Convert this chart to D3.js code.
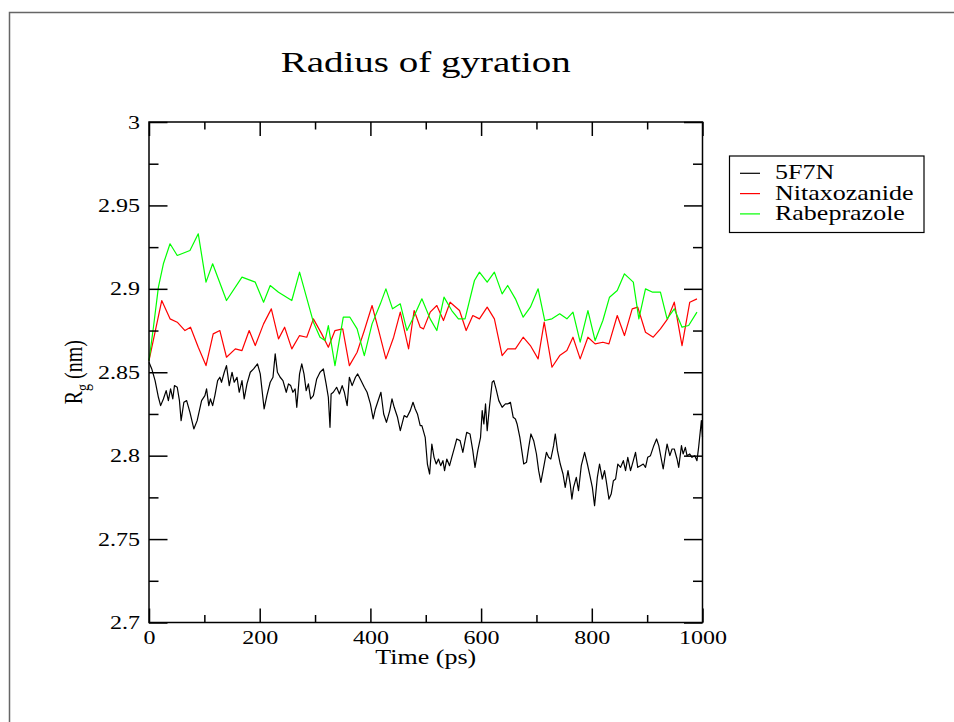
<!DOCTYPE html>
<html>
<head>
<meta charset="utf-8">
<script src="https://cdn.jsdelivr.net/npm/d3@7"></script>
<style>
  html, body { margin: 0; padding: 0; background: #fff; }
  svg { display: block; font-family: "Liberation Serif", "Times New Roman", serif; }
</style>
</head>
<body>
<svg id="chart" width="954" height="722"></svg>
<script>
// Radius of gyration (time in ps, Rg in nm)
const xMajor = [0, 200, 400, 600, 800, 1000];
const xMinor = [100, 300, 500, 700, 900];
const yMajor = [2.7, 2.75, 2.8, 2.85, 2.9, 2.95, 3.0];
const yMinor = [2.725, 2.775, 2.825, 2.875, 2.925, 2.975];

const seriesNames = ["5F7N", "Nitaxozanide", "Rabeprazole"];
const seriesColors = ["#000000", "#ff0000", "#00ff00"];

const rg5F7N = [
  [0,2.856],[5,2.852],[11,2.845],[17,2.835],[21,2.830],[26,2.834],[31,2.839],[35,2.833],[39,2.840],[43,2.834],
  [46,2.842],[51,2.841],[55,2.833],[58,2.821],[63,2.832],[68,2.833],[74,2.826],[81,2.816],[87,2.821],[95,2.833],
  [101,2.836],[104,2.840],[108,2.830],[111,2.834],[115,2.830],[119,2.836],[124,2.845],[128,2.847],[131,2.844],[136,2.850],
  [140,2.854],[145,2.842],[150,2.850],[154,2.844],[159,2.847],[163,2.838],[168,2.845],[172,2.834],[177,2.843],[183,2.850],
  [189,2.852],[196,2.855],[201,2.849],[208,2.828],[213,2.836],[219,2.844],[224,2.847],[228,2.861],[232,2.850],[237,2.847],
  [242,2.845],[248,2.838],[252,2.843],[256,2.842],[260,2.838],[264,2.840],[267,2.829],[272,2.849],[276,2.855],[280,2.849],
  [284,2.839],[288,2.843],[292,2.834],[297,2.836],[303,2.846],[309,2.850],[315,2.852],[320,2.843],[324,2.835],[327,2.817],
  [329,2.837],[333,2.838],[339,2.841],[344,2.837],[349,2.842],[353,2.838],[358,2.830],[362,2.847],[367,2.842],[373,2.847],
  [377,2.849],[383,2.845],[389,2.841],[394,2.838],[400,2.831],[405,2.822],[409,2.828],[413,2.832],[419,2.838],[424,2.825],
  [429,2.820],[435,2.827],[439,2.834],[443,2.829],[449,2.823],[454,2.815],[461,2.824],[466,2.823],[472,2.827],[477,2.832],
  [481,2.828],[485,2.825],[490,2.818],[493,2.818],[499,2.811],[503,2.795],[507,2.789],[511,2.807],[515,2.799],[519,2.795],
  [523,2.798],[527,2.794],[531,2.797],[534,2.791],[538,2.798],[543,2.794],[547,2.799],[552,2.805],[556,2.810],[562,2.809],
  [567,2.802],[571,2.809],[574,2.814],[580,2.813],[585,2.803],[589,2.793],[594,2.803],[599,2.811],[602,2.827],[605,2.819],
  [608,2.831],[611,2.815],[615,2.829],[620,2.844],[623,2.845],[627,2.840],[632,2.833],[638,2.829],[644,2.831],[648,2.831],
  [653,2.832],[658,2.823],[662,2.822],[665,2.819],[670,2.811],[674,2.802],[677,2.795],[682,2.796],[686,2.805],[690,2.813],
  [695,2.809],[700,2.801],[704,2.791],[708,2.784],[713,2.793],[718,2.802],[722,2.799],[726,2.798],[731,2.806],[734,2.813],
  [738,2.803],[743,2.795],[748,2.789],[752,2.781],[757,2.791],[761,2.783],[764,2.774],[767,2.781],[772,2.787],[776,2.779],
  [781,2.794],[787,2.802],[792,2.795],[796,2.789],[801,2.781],[805,2.770],[810,2.787],[814,2.795],[819,2.786],[823,2.791],
  [826,2.785],[831,2.774],[835,2.777],[839,2.785],[843,2.786],[847,2.795],[852,2.793],[857,2.797],[861,2.791],[865,2.799],
  [870,2.791],[875,2.797],[879,2.802],[883,2.793],[888,2.794],[893,2.795],[897,2.793],[901,2.799],[906,2.800],[912,2.806],
  [917,2.810],[921,2.806],[925,2.799],[929,2.792],[933,2.801],[936,2.807],[941,2.800],[945,2.804],[949,2.804],[954,2.798],
  [957,2.793],[962,2.806],[965,2.801],[969,2.805],[972,2.800],[977,2.801],[981,2.799],[986,2.800],[990,2.797],[993,2.805],
  [998,2.821],[1000,2.811]
];

const rgNitaxozanide = [
  [0,2.857],[23,2.893],[38,2.882],[51,2.880],[65,2.875],[75,2.877],[89,2.865],[103,2.854],[116,2.873],[128,2.875],
  [140,2.859],[156,2.864],[168,2.863],[181,2.875],[192,2.866],[207,2.879],[221,2.888],[234,2.870],[245,2.877],[258,2.864],
  [272,2.872],[285,2.871],[297,2.882],[312,2.873],[324,2.865],[336,2.875],[350,2.876],[362,2.854],[376,2.862],[389,2.875],
  [403,2.890],[415,2.875],[428,2.858],[442,2.871],[454,2.886],[469,2.864],[479,2.887],[490,2.877],[496,2.876],[508,2.886],
  [520,2.890],[532,2.881],[544,2.892],[561,2.887],[573,2.875],[585,2.884],[597,2.882],[611,2.889],[624,2.882],[638,2.860],
  [648,2.864],[662,2.864],[676,2.871],[689,2.866],[703,2.858],[714,2.880],[728,2.853],[742,2.860],[755,2.863],[766,2.871],
  [779,2.858],[793,2.871],[806,2.867],[820,2.868],[831,2.867],[846,2.884],[859,2.872],[873,2.888],[883,2.889],[897,2.874],
  [911,2.871],[924,2.876],[937,2.882],[949,2.892],[963,2.866],[977,2.892],[990,2.894]
];

const rgRabeprazole = [
  [0,2.857],[8,2.877],[17,2.901],[26,2.915],[38,2.927],[51,2.920],[74,2.923],[89,2.933],[103,2.904],[115,2.915],
  [140,2.893],[168,2.907],[192,2.904],[207,2.892],[219,2.902],[234,2.898],[258,2.893],[272,2.910],[297,2.880],[309,2.871],
  [318,2.869],[324,2.878],[336,2.854],[351,2.883],[363,2.883],[376,2.876],[389,2.860],[403,2.879],[418,2.891],[428,2.900],
  [440,2.888],[454,2.891],[466,2.875],[478,2.883],[493,2.894],[508,2.882],[520,2.875],[533,2.895],[547,2.887],[559,2.882],
  [571,2.882],[588,2.905],[597,2.910],[611,2.904],[624,2.910],[638,2.897],[648,2.902],[662,2.894],[676,2.883],[689,2.889],
  [703,2.900],[715,2.881],[728,2.882],[742,2.885],[755,2.882],[766,2.886],[779,2.868],[793,2.887],[806,2.869],[820,2.881],
  [832,2.895],[846,2.899],[859,2.909],[875,2.904],[885,2.882],[897,2.900],[910,2.898],[924,2.898],[936,2.882],[949,2.888],
  [963,2.877],[975,2.878],[990,2.886]
];

(function () {
  "use strict";

  const SX = 1.3; // the original picture is stretched sideways, text included
  const FONT = '"Liberation Serif", "Times New Roman", serif';
  const L = 149, R = 702.5, T = 122, B = 622.5;

  const svg = d3.select("#chart");
  const x = d3.scaleLinear().domain([0, 1000]).range([L, R]);
  const y = d3.scaleLinear().domain([2.7, 3.0]).range([B, T]);

  const stext = (sel, px, py, str, size, anchor) => sel.append("text")
    .attr("transform", `translate(${px},${py}) scale(${SX},1)`)
    .attr("font-size", size).attr("text-anchor", anchor || "middle")
    .attr("fill", "#000").text(str);

  // page frame (top + left edge of the grace canvas)
  svg.append("path").attr("d", "M9.5,722V12.5H954").attr("fill", "none")
    .attr("stroke", "#666").attr("stroke-width", 1.5);

  // title
  stext(svg, (L + R) / 2, 71.5, "Radius of gyration", 30);

  // data
  const line = d3.line().x((d) => x(d[0])).y((d) => y(d[1]));
  [rg5F7N, rgNitaxozanide, rgRabeprazole].forEach((s, i) => {
    svg.append("path").datum(s).attr("fill", "none").attr("stroke", seriesColors[i])
      .attr("stroke-width", 1.2).attr("stroke-linejoin", "round").attr("d", line);
  });

  // ticks, all pointing inward
  const fmtY = (d) => String(+d.toFixed(3));
  const tickAxis = (gen, tv, size, tx, ty, fmt) => {
    const g = svg.append("g").attr("transform", `translate(${tx},${ty})`)
      .call(gen.tickValues(tv).tickSizeInner(-size).tickSizeOuter(0).tickFormat(fmt || (() => "")));
    g.select(".domain").remove();
    g.selectAll("line").attr("stroke", "#000").attr("stroke-width", 1.5);
    return g;
  };

  const gb = tickAxis(d3.axisBottom(x), xMajor, 14, 0, B, (d) => d);
  tickAxis(d3.axisBottom(x), xMinor, 7.5, 0, B);
  tickAxis(d3.axisTop(x), xMajor, 14, 0, T);
  tickAxis(d3.axisTop(x), xMinor, 7.5, 0, T);
  const gl = tickAxis(d3.axisLeft(y), yMajor, 18.5, L, 0, fmtY);
  tickAxis(d3.axisLeft(y), yMinor, 9.5, L, 0);
  tickAxis(d3.axisRight(y), yMajor, 18.5, R, 0);
  tickAxis(d3.axisRight(y), yMinor, 9.5, R, 0);

  gb.selectAll("text").attr("x", null).attr("y", null).attr("dy", null)
    .attr("transform", `translate(0,21) scale(${SX},1)`)
    .attr("font-family", FONT).attr("font-size", 18.5).attr("fill", "#000");
  gl.selectAll("text").attr("x", null).attr("y", null).attr("dy", null)
    .attr("transform", `translate(-9,6) scale(${SX},1)`)
    .attr("font-family", FONT).attr("font-size", 18.5).attr("fill", "#000");

  // plot frame
  svg.append("rect").attr("x", L).attr("y", T).attr("width", R - L).attr("height", B - T)
    .attr("fill", "none").attr("stroke", "#000").attr("stroke-width", 1.5);

  // axis labels
  stext(svg, (L + R) / 2, 663.5, "Time (ps)", 20);
  const yl = svg.append("text")
    .attr("transform", `translate(82,${(T + B) / 2}) scale(${SX},1) rotate(-90)`)
    .attr("font-size", 20).attr("text-anchor", "middle").attr("fill", "#000");
  yl.append("tspan").text("R");
  yl.append("tspan").attr("font-size", 14).attr("dy", 5).text("g");
  yl.append("tspan").attr("dy", -5).text(" (nm)");

  // legend
  const lg = svg.append("g");
  lg.append("rect").attr("x", 729.5).attr("y", 156).attr("width", 194.5).attr("height", 76.5)
    .attr("fill", "#fff").attr("stroke", "#000").attr("stroke-width", 1.2);
  seriesNames.forEach((name, i) => {
    const ry = 173.3 + i * 20.3;
    lg.append("line").attr("x1", 740).attr("x2", 760).attr("y1", ry).attr("y2", ry)
      .attr("stroke", seriesColors[i]).attr("stroke-width", 1.2);
    stext(lg, 775, ry + 6, name, 20, "start");
  });
})();
</script>
</body>
</html>
